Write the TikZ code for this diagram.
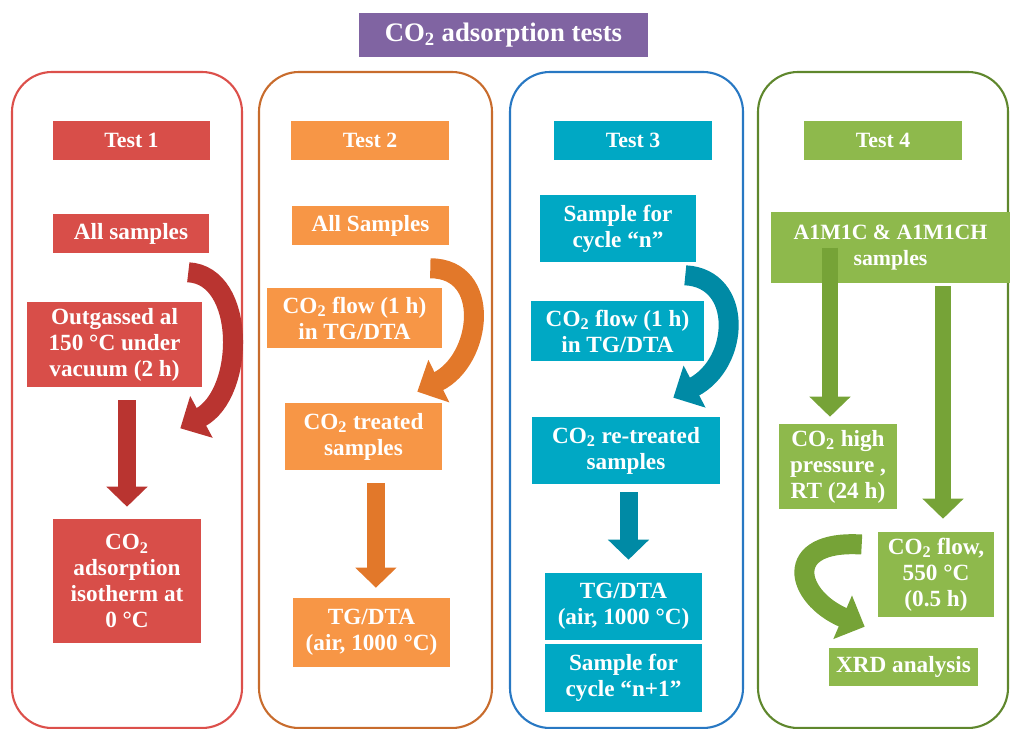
\documentclass[tikz,border=0pt]{standalone}
\usepackage{fontspec}
\setmainfont{Liberation Serif}
\usetikzlibrary{arrows.meta}
\definecolor{titlepurple}{RGB}{128,100,162}
\definecolor{redbox}{RGB}{216,78,73}
\definecolor{redline}{RGB}{220,80,75}
\definecolor{redarrow}{RGB}{185,52,48}
\definecolor{orangebox}{RGB}{247,150,70}
\definecolor{orangeline}{RGB}{200,108,45}
\definecolor{orangearrow}{RGB}{226,120,42}
\definecolor{bluebox}{RGB}{0,168,196}
\definecolor{blueline}{RGB}{40,120,195}
\definecolor{bluearrow}{RGB}{0,138,165}
\definecolor{greenbox}{RGB}{142,185,76}
\definecolor{greenline}{RGB}{95,135,45}
\definecolor{greenarrow}{RGB}{118,163,55}

\begin{document}
\begin{tikzpicture}[x=0.025cm,y=-0.025cm,
    col/.style={rounded corners=1cm,line width=1.5pt},
    box node/.style={rectangle,text=white,font=\fontsize{16.5}{18.5}\selectfont\bfseries,align=center,inner sep=0pt},
    test node/.style={box node,minimum width=3.925cm,minimum height=0.975cm,font=\fontsize{15.5}{18}\selectfont\bfseries},
    down arrow/.style={line width=0.45cm,-{Triangle[width=1cm,length=0.5cm]}},
    bend arrow/.style={line width=0.5cm,-{Triangle[width=1.15cm,length=0.6cm]}}]
   \useasboundingbox (0,0) rectangle (1012,729);
   \draw[col,redline] (12,72) rectangle (242,728);
   \draw[col,orangeline] (259,72) rectangle (492,728);
   \draw[col,blueline] (510,72) rectangle (743,728);
   \draw[col,greenline] (758,72) rectangle (1008,728);

   \node[box node,fill=titlepurple,minimum width=7.225cm,minimum height=1.1cm,font=\fontsize{19}{22}\selectfont\bfseries] (title) at (503.5,35) {CO\textsubscript{2} adsorption tests};

   \node[test node,fill=redbox] (test1) at (131.5,140.5) {Test 1};
   \node[test node,fill=orangebox] (test2) at (370,140.5) {Test 2};
   \node[test node,fill=bluebox] (test3) at (633,140.5) {Test 3};
   \node[test node,fill=greenbox] (test4) at (883,140.5) {Test 4};

   \node[box node,fill=redbox,minimum width=3.9cm,minimum height=0.975cm] (all1) at (131,233.5) {All samples};
   \node[box node,fill=redbox,minimum width=4.375cm,minimum height=2.125cm] (out1) at (114.5,344.5) {Outgassed al\\150~°C under\\vacuum (2~h)};
   \node[box node,fill=redbox,minimum width=3.7cm,minimum height=3.1cm] (iso1) at (127,581) {CO\textsubscript{2}\\adsorption\\isotherm at\\0~°C};

   \node[box node,fill=orangebox,minimum width=3.925cm,minimum height=0.975cm] (all2) at (370.5,225.5) {All Samples};
   \node[box node,fill=orangebox,minimum width=4.375cm,minimum height=1.5cm] (flow2) at (354.5,318) {CO\textsubscript{2} flow (1 h)\\in TG/DTA};
   \node[box node,fill=orangebox,minimum width=3.925cm,minimum height=1.675cm] (treat2) at (363.5,436.5) {CO\textsubscript{2} treated\\samples};
   \node[box node,fill=orangebox,minimum width=3.925cm,minimum height=1.725cm] (tga2) at (371.5,632.5) {TG/DTA\\(air, 1000~°C)};

   \node[box node,fill=bluebox,minimum width=3.9cm,minimum height=1.675cm] (samp3) at (618,228.5) {Sample for\\cycle “n”};
   \node[box node,fill=bluebox,minimum width=4.325cm,minimum height=1.5cm] (flow3) at (617.5,331) {CO\textsubscript{2} flow (1 h)\\in TG/DTA};
   \node[box node,fill=bluebox,minimum width=4.7cm,minimum height=1.675cm] (ret3) at (626,450.5) {CO\textsubscript{2} re-treated\\samples};
   \node[box node,fill=bluebox,minimum width=3.925cm,minimum height=1.675cm] (tga3) at (623.5,606.5) {TG/DTA\\(air, 1000~°C)};
   \node[box node,fill=bluebox,minimum width=3.925cm,minimum height=1.7cm] (next3) at (623.5,678) {Sample for\\cycle “n+1”};

   \node[box node,fill=greenbox,minimum width=5.975cm,minimum height=1.775cm,font=\fontsize{15.5}{18.5}\selectfont\bfseries] (a1m4) at (890.5,247.5) {A1M1C \& A1M1CH\\samples};
   \node[box node,fill=greenbox,minimum width=2.95cm,minimum height=2.125cm] (hp4) at (838,466.5) {CO\textsubscript{2} high\\pressure ,\\RT (24 h)};
   \node[box node,fill=greenbox,minimum width=2.9cm,minimum height=2.125cm] (flow4) at (936,574.5) {CO\textsubscript{2} flow,\\550~°C\\(0.5 h)};
   \node[box node,fill=greenbox,minimum width=3.725cm,minimum height=0.95cm] (xrd4) at (903.5,667) {XRD analysis};

   \draw[down arrow,redarrow,shorten <=0.325cm,shorten >=0.3cm] (iso1.north |- out1.south) -- (iso1.north);
   \draw[down arrow,orangearrow,shorten <=0.325cm,shorten >=0.25cm,transform canvas={xshift=0.11cm}] (tga2.north |- treat2.south) -- (tga2.north);
   \draw[down arrow,bluearrow,shorten <=0.2cm,shorten >=0.325cm,transform canvas={xshift=0.125cm}] (tga3.north |- ret3.south) -- (tga3.north);
   \draw[down arrow,greenarrow,line width=0.4cm,shorten >=0.175cm,transform canvas={xshift=-0.2cm}] (hp4.north |- a1m4.center) -- (hp4.north);
   \draw[down arrow,greenarrow,line width=0.4cm,shorten <=0.075cm,shorten >=0.325cm,transform canvas={xshift=0.175cm}] (flow4.north |- a1m4.south) -- (flow4.north);

   \draw[bend arrow,redarrow] ([shift={(-21,19)}]all1.south east) .. controls +(58,3) and +(65,-35) .. ([shift={(-22,41)}]out1.south east);
   \draw[bend arrow,orangearrow] ([shift={(-19,23)}]all2.south east) .. controls +(62,0) and +(65,-32) .. ([shift={(-25,-11)}]treat2.north east);
   \draw[bend arrow,bluearrow] ([shift={(-11,13)}]samp3.south east) .. controls +(58,3) and +(67,-35) .. ([shift={(-47,-19)}]ret3.north east);
   \draw[bend arrow,greenarrow] ([shift={(-16,-30)}]flow4.west) .. controls +(-80,-5) and +(-70,-30) .. ([shift={(36,-21)}]xrd4.north west);
\end{tikzpicture}
\end{document}
